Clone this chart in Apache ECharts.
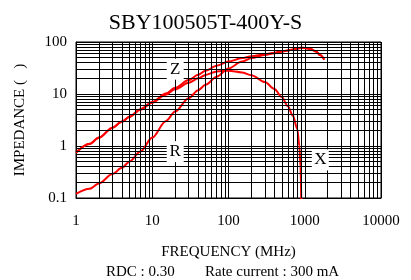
<!DOCTYPE html>
<html>
<head>
<meta charset="utf-8">
<script src="https://cdn.jsdelivr.net/npm/echarts@6/dist/echarts.min.js"></script>
<style>
  html, body { margin: 0; padding: 0; background: #fff; }
  #main { width: 411px; height: 280px; }
</style>
</head>
<body>
<div id="main"></div>
<script>
// impedance curves (MHz -> ohm)
var freqZ = [1, 1.5, 2, 3, 4, 5, 7, 10, 15, 20, 30, 40, 50, 70, 100, 150, 200, 300, 400, 500, 600, 700, 800, 900, 1000, 1200, 1400, 1600, 1800];
var zVals = [0.75, 1.1, 1.45, 2.25, 2.95, 3.65, 5.1, 7.0, 10.2, 13.2, 18.5, 23.5, 28, 35, 42, 49, 53, 58, 62, 66, 69, 72, 75, 78, 77, 73, 66, 56, 46];

var freqR = [1, 1.5, 2, 3, 4, 5, 7, 10, 15, 20, 30, 40, 50, 70, 100, 150, 200, 300, 400, 500, 600, 700, 800, 900, 1000, 1200, 1400, 1600, 1800];
var rVals = [0.12, 0.15, 0.19, 0.29, 0.38, 0.5, 0.78, 1.45, 3.0, 4.6, 8.3, 11.8, 15, 21.5, 31, 42, 49, 56, 61, 65.5, 68.5, 71.5, 74.5, 77.5, 76.5, 72.5, 65.5, 55.5, 45.5];

var freqX = [1, 1.5, 2, 3, 4, 5, 7, 10, 15, 20, 30, 40, 50, 70, 100, 150, 200, 300, 400, 500, 600, 700, 800, 850, 880, 900];
var xVals = [0.74, 1.09, 1.44, 2.23, 2.92, 3.6, 5.0, 6.8, 9.7, 12.3, 16.4, 20, 23.3, 27.2, 28, 26, 23, 17, 12.5, 8.8, 5.8, 3.8, 2.1, 1.0, 0.4, 0.09];

var xTickLabels = ['1', '10', '100', '1000', '10000'];
var yTickLabels = ['0.1', '1', '10', '100'];

// curve tags (name, freq, ohm)
var tagNames = ['Z', 'R', 'X'];
var tagFreq = [20, 20, 1600];
var tagOhm = [30, 0.78, 0.54];

var xDecades = [1, 10, 100, 1000];
var yDecades = [0.1, 1, 10];
var minorSteps = [2, 3, 4, 5, 6, 7, 8, 9];

function pairs(xs, ys) {
  return xs.map(function (x, i) { return [x, ys[i]]; });
}

function pickLabel(list, v) {
  var best = list[0];
  list.forEach(function (s) {
    if (Math.abs(Math.log10(+s) - Math.log10(v)) < Math.abs(Math.log10(+best) - Math.log10(v))) best = s;
  });
  return best;
}

var gridLines = [];
xDecades.forEach(function (d) {
  minorSteps.forEach(function (m) { gridLines.push({ xAxis: d * m }); });
});
yDecades.forEach(function (d) {
  minorSteps.forEach(function (m) { gridLines.push({ yAxis: d * m }); });
});

var serif = 'Liberation Serif';
var myChart = echarts.init(document.getElementById('main'));

var option = {
  animation: false,
  title: {
    text: 'SBY100505T-400Y-S',
    left: 'center',
    top: 7,
    textStyle: { fontFamily: serif, fontSize: 22, fontWeight: 'normal', color: '#000' }
  },
  grid: {
    left: 76, right: 30, top: 42, bottom: 82,
    show: true, borderColor: '#000', borderWidth: 1
  },
  xAxis: {
    type: 'log', logBase: 10, min: 1, max: 10000,
    name: 'FREQUENCY (MHz)', nameLocation: 'middle', nameGap: 47,
    nameTextStyle: { fontFamily: serif, fontSize: 15, color: '#000' },
    axisLine: { lineStyle: { color: '#000' } },
    axisTick: { show: false },
    axisLabel: {
      fontFamily: serif, fontSize: 15, color: '#000', margin: 16,
      formatter: function (v) { return pickLabel(xTickLabels, v); }
    },
    splitLine: { show: true, lineStyle: { color: '#000', width: 1 } }
  },
  yAxis: {
    type: 'log', logBase: 10, min: 0.1, max: 100,
    name: 'IMPEDANCE (   )', nameLocation: 'middle', nameGap: 48, nameRotate: 90,
    nameTextStyle: { fontFamily: serif, fontSize: 15, color: '#000' },
    axisLine: { lineStyle: { color: '#000' } },
    axisTick: { show: false },
    axisLabel: {
      fontFamily: serif, fontSize: 15, color: '#000', margin: 9,
      formatter: function (v) { return pickLabel(yTickLabels, v); }
    },
    splitLine: { show: true, lineStyle: { color: '#000', width: 1 } }
  },
  graphic: [
    { type: 'text', left: 106, top: 265, style: { text: 'RDC : 0.30', fontFamily: serif, fontSize: 15, fill: '#000' } },
    { type: 'text', left: 205, top: 265, style: { text: 'Rate current : 300 mA', fontFamily: serif, fontSize: 15, fill: '#000' } }
  ],
  series: [
    {
      // minor log grid
      type: 'line', z: 1, data: [[1, 0.1]], showSymbol: false, silent: true,
      markLine: {
        silent: true, symbol: ['none', 'none'],
        label: { show: false },
        lineStyle: { color: '#000', width: 1, type: 'solid' },
        emphasis: { disabled: true },
        data: gridLines
      }
    },
    {
      type: 'line', z: 2, data: [[1, 0.1]], showSymbol: false, silent: true,
      markPoint: {
        silent: true, symbol: 'rect', symbolSize: [17, 21],
        itemStyle: { color: '#fff' },
        label: { show: true, formatter: '{b}', color: '#000', fontFamily: serif, fontSize: 17 },
        data: tagNames.map(function (n, i) { return { name: n, coord: [tagFreq[i], tagOhm[i]] }; })
      }
    },
    {
      name: 'X', type: 'line', z: 3, data: pairs(freqX, xVals), showSymbol: false,
      smooth: 0.3, smoothMonotone: 'x',
      lineStyle: { color: '#ff0000', width: 2 }
    },
    {
      name: 'R', type: 'line', z: 3, data: pairs(freqR, rVals), showSymbol: false,
      smooth: 0.3, smoothMonotone: 'x',
      lineStyle: { color: '#ff0000', width: 2 }
    },
    {
      name: 'Z', type: 'line', z: 3, data: pairs(freqZ, zVals), showSymbol: false,
      smooth: 0.3, smoothMonotone: 'x',
      lineStyle: { color: '#ff0000', width: 2 }
    }
  ]
};

myChart.setOption(option);
</script>
</body>
</html>
